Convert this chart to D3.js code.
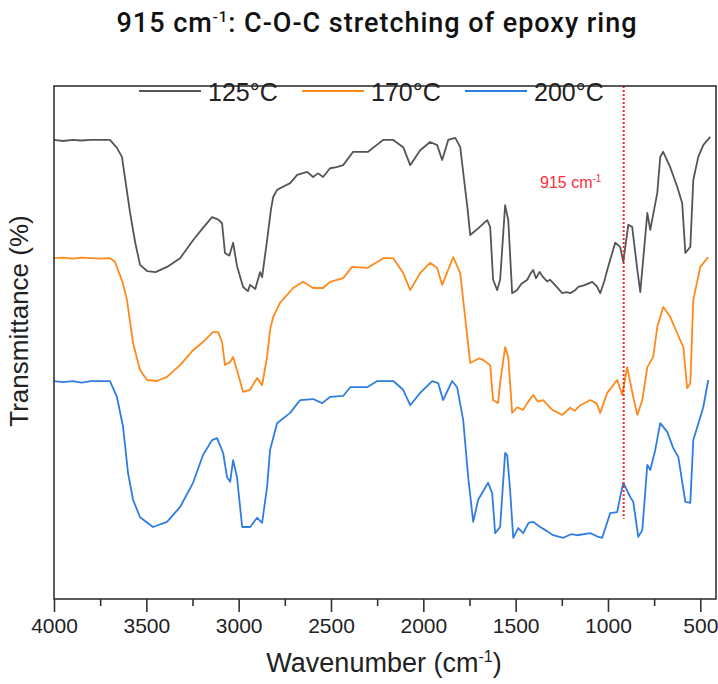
<!DOCTYPE html>
<html>
<head>
<meta charset="utf-8">
<script src="https://cdn.jsdelivr.net/npm/d3@7"></script>
<style>
  html, body { margin: 0; padding: 0; background: #fff; }
  svg { display: block; }
</style>
</head>
<body>
<svg id="chart" width="718" height="684"></svg>
<script>
// FTIR spectra of the cured resin at three temperatures (offset traces)
const seriesNames = ["125°C", "170°C", "200°C"];
const seriesColors = ["#555555", "#ff8a1c", "#2f7de1"];

// [wavenumber (cm-1), transmittance (offset, a.u.)]
const spectrum125 = [
  [4000, 89.5], [3950, 89.3], [3900, 89.5], [3850, 89.4], [3800, 89.5], [3750, 89.5],
  [3697, 89.5], [3660, 88.0], [3632, 86.2], [3588, 75.3], [3560, 69.5], [3534, 65.2],
  [3496, 64.0], [3450, 63.8], [3388, 64.8], [3317, 66.5], [3247, 70.0], [3193, 72.4],
  [3144, 74.5], [3110, 74.0], [3090, 73.3], [3074, 67.5], [3050, 67.0], [3030, 69.5],
  [3009, 65.0], [2976, 60.9], [2950, 60.1], [2938, 61.3], [2910, 60.5], [2884, 63.8],
  [2873, 62.8], [2846, 70.0], [2825, 76.0], [2813, 78.4], [2792, 79.8], [2760, 80.4],
  [2721, 81.1], [2683, 82.7], [2629, 83.3], [2597, 82.3], [2570, 83.0], [2543, 82.3],
  [2505, 84.0], [2470, 84.2], [2434, 84.6], [2380, 87.2], [2299, 87.2], [2250, 88.6],
  [2218, 89.5], [2163, 89.5], [2109, 88.1], [2071, 84.6], [2017, 87.5], [1963, 89.1],
  [1925, 88.5], [1898, 85.6], [1865, 89.5], [1827, 89.9], [1800, 88.1], [1780, 82.0],
  [1760, 76.0], [1746, 71.0], [1700, 72.4], [1654, 73.9], [1638, 72.6], [1622, 62.3],
  [1600, 60.3], [1584, 62.3], [1557, 76.8], [1540, 73.9], [1519, 59.7], [1492, 60.3],
  [1470, 61.5], [1437, 62.3], [1420, 63.5], [1405, 64.2], [1390, 62.6], [1370, 63.8],
  [1351, 62.8], [1330, 62.0], [1313, 62.3], [1280, 61.0], [1248, 59.7], [1225, 59.9],
  [1204, 59.7], [1180, 60.2], [1161, 60.9], [1130, 61.2], [1085, 61.9], [1060, 61.0],
  [1042, 59.7], [1020, 62.0], [1004, 64.2], [961, 69.5], [934, 68.7], [917, 65.8],
  [890, 73.0], [869, 72.6], [841, 64.2], [825, 59.9], [787, 75.3], [771, 72.0],
  [733, 79.2], [717, 86.2], [701, 87.2], [663, 84.2], [625, 80.4], [598, 77.2],
  [581, 67.5], [554, 68.7], [538, 81.7], [511, 86.2], [484, 88.5], [446, 90.1]
];

const spectrum170 = [
  [4000, 66.5], [3950, 66.6], [3900, 66.4], [3850, 66.6], [3800, 66.5], [3750, 66.4],
  [3697, 66.5], [3670, 65.8], [3630, 62.0], [3605, 58.4], [3572, 50.0], [3534, 44.7],
  [3496, 42.8], [3442, 42.6], [3388, 43.4], [3317, 45.7], [3247, 48.6], [3193, 50.2],
  [3139, 52.1], [3111, 52.1], [3090, 50.2], [3074, 45.7], [3046, 46.3], [3030, 47.3],
  [3009, 44.7], [2976, 40.5], [2938, 40.9], [2900, 43.2], [2873, 41.8], [2846, 47.3],
  [2830, 52.5], [2813, 55.1], [2776, 57.8], [2705, 60.7], [2651, 61.9], [2597, 60.7],
  [2543, 60.7], [2505, 61.9], [2434, 62.6], [2386, 64.8], [2304, 64.6], [2234, 66.1],
  [2218, 66.5], [2163, 66.5], [2109, 63.6], [2071, 60.3], [2017, 63.6], [1963, 65.6],
  [1925, 64.6], [1898, 61.3], [1838, 66.7], [1800, 63.6], [1784, 58.4], [1746, 46.1],
  [1700, 47.0], [1676, 46.7], [1638, 45.7], [1622, 38.9], [1595, 38.3], [1584, 42.2],
  [1557, 49.2], [1540, 47.3], [1519, 36.4], [1492, 37.5], [1460, 37.0], [1437, 38.3],
  [1405, 39.9], [1380, 38.6], [1351, 38.9], [1302, 37.0], [1270, 36.4], [1248, 36.0],
  [1204, 37.4], [1180, 36.8], [1150, 37.9], [1096, 38.9], [1060, 38.2], [1042, 36.4],
  [1004, 40.3], [950, 42.8], [923, 39.9], [896, 45.3], [863, 39.5], [841, 36.0],
  [814, 38.9], [787, 45.3], [755, 47.3], [733, 53.1], [701, 57.0], [663, 55.1],
  [625, 51.9], [592, 49.2], [571, 41.2], [554, 42.2], [538, 58.4], [500, 64.8],
  [457, 66.7]
];

const spectrum200 = [
  [4000, 42.6], [3950, 42.4], [3900, 42.6], [3850, 42.3], [3800, 42.6], [3750, 42.6],
  [3697, 42.6], [3659, 39.5], [3626, 33.7], [3599, 24.7], [3572, 19.5], [3534, 16.1],
  [3464, 14.2], [3388, 15.2], [3317, 18.1], [3247, 22.8], [3193, 28.2], [3144, 31.1],
  [3117, 31.5], [3084, 28.6], [3063, 23.9], [3046, 23.0], [3030, 27.2], [3009, 23.9],
  [2981, 14.2], [2938, 14.2], [2900, 16.0], [2873, 15.0], [2846, 22.0], [2830, 29.2],
  [2792, 34.4], [2721, 36.4], [2667, 38.9], [2597, 39.1], [2548, 38.3], [2505, 39.5],
  [2434, 39.7], [2396, 41.4], [2304, 41.4], [2250, 42.6], [2163, 42.6], [2109, 40.9],
  [2071, 37.9], [2017, 40.3], [1952, 42.6], [1920, 42.2], [1893, 38.9], [1844, 42.6],
  [1817, 41.4], [1784, 35.0], [1757, 23.9], [1730, 15.2], [1703, 19.5], [1649, 22.8],
  [1627, 20.8], [1611, 13.0], [1584, 14.2], [1557, 28.6], [1546, 28.2], [1530, 21.4],
  [1513, 12.1], [1486, 14.0], [1459, 13.0], [1430, 15.0], [1405, 15.2], [1367, 14.2],
  [1330, 13.4], [1297, 12.6], [1242, 12.1], [1200, 12.8], [1167, 12.6], [1096, 13.0],
  [1060, 12.4], [1031, 12.1], [988, 16.9], [950, 17.1], [934, 20.0], [917, 22.8],
  [879, 20.0], [863, 19.1], [836, 12.3], [814, 13.6], [787, 26.3], [771, 25.3],
  [744, 29.2], [717, 34.4], [679, 32.7], [647, 29.6], [619, 27.8], [581, 19.1],
  [554, 18.9], [538, 31.1], [484, 37.5], [457, 42.8]
];

const spectra = [spectrum125, spectrum170, spectrum200];

const xTicks = [4000, 3500, 3000, 2500, 2000, 1500, 1000, 500];
const xMinorTicks = [3750, 3250, 2750, 2250, 1750, 1250, 750];
const markerWavenumber = 915;
const markerTop = 100;     // transmittance where the marker line starts
const markerBottom = 15.8; // transmittance where it ends

const svg = d3.select("#chart");
const plot = { left: 54, right: 716, top: 86, bottom: 599 };

const x = d3.scaleLinear().domain([4000, 415]).range([plot.left, plot.right]);
const y = d3.scaleLinear().domain([0, 100]).range([600, plot.top]);

// title, spread to its full width
const titleWidth = 520;
const title = svg.append("text")
  .attr("x", 377).attr("y", 32)
  .attr("text-anchor", "middle")
  .style("font-family", "Roboto, 'Noto Sans', sans-serif")
  .style("font-weight", 500)
  .style("font-size", "27px")
  .style("fill", "#111");
title.append("tspan").text("915 cm");
title.append("tspan").attr("dy", -10).style("font-size", "15px").text("-1");
title.append("tspan").attr("dy", 10).text(": C-O-C stretching of epoxy ring");
{
  const w = title.node().getComputedTextLength();
  const chars = title.text().length;
  if (w < titleWidth && chars > 1) {
    title.style("letter-spacing", ((titleWidth - w) / (chars - 1)) + "px");
  }
}

// spectra
const line = d3.line().x(d => x(d[0])).y(d => y(d[1]));
svg.append("g").selectAll("path")
  .data(spectra)
  .join("path")
  .attr("d", line)
  .attr("fill", "none")
  .attr("stroke", (d, i) => seriesColors[i])
  .attr("stroke-width", 1.8)
  .attr("stroke-linejoin", "round");

// 915 cm-1 marker
svg.append("line")
  .attr("x1", x(markerWavenumber)).attr("x2", x(markerWavenumber))
  .attr("y1", y(markerTop)).attr("y2", y(markerBottom))
  .attr("stroke", "#ff2020")
  .attr("stroke-width", 2)
  .attr("stroke-dasharray", "2,2");

const markerLabel = svg.append("text")
  .attr("x", 540).attr("y", 188)
  .style("font-family", "'Liberation Sans', Arial, sans-serif")
  .style("font-size", "16px")
  .style("fill", "#ff2d3c");
markerLabel.append("tspan").text("915 cm");
markerLabel.append("tspan").attr("dy", -6).style("font-size", "10px").text("-1");

// frame
svg.append("rect")
  .attr("x", plot.left).attr("y", plot.top)
  .attr("width", plot.right - plot.left).attr("height", plot.bottom - plot.top)
  .attr("fill", "none")
  .attr("stroke", "#333")
  .attr("stroke-width", 1.6);

// x axis: major ticks with labels, minor ticks without
const xAxis = svg.append("g")
  .attr("transform", `translate(0,${plot.bottom})`)
  .call(d3.axisBottom(x).tickValues(xTicks).tickSize(13).tickPadding(6).tickFormat(d3.format("d")));
xAxis.select(".domain").remove();
xAxis.selectAll(".tick line").attr("stroke", "#333").attr("stroke-width", 1.6);
xAxis.selectAll(".tick text")
  .style("font-family", "'Liberation Sans', Arial, sans-serif")
  .style("font-size", "21px")
  .style("fill", "#222");

const xMinor = svg.append("g")
  .attr("transform", `translate(0,${plot.bottom})`)
  .call(d3.axisBottom(x).tickValues(xMinorTicks).tickSize(7).tickFormat(""));
xMinor.select(".domain").remove();
xMinor.selectAll(".tick line").attr("stroke", "#333").attr("stroke-width", 1.6);

// axis titles
const xTitle = svg.append("text")
  .attr("x", 384).attr("y", 672)
  .attr("text-anchor", "middle")
  .style("font-family", "'Liberation Sans', Arial, sans-serif")
  .style("font-size", "27px")
  .style("fill", "#222");
xTitle.append("tspan").text("Wavenumber (cm");
xTitle.append("tspan").attr("dy", -10).style("font-size", "16px").text("-1");
xTitle.append("tspan").attr("dy", 10).text(")");

svg.append("text")
  .attr("transform", "translate(28,321) rotate(-90)")
  .attr("text-anchor", "middle")
  .style("font-family", "'Liberation Sans', Arial, sans-serif")
  .style("font-size", "26px")
  .style("fill", "#222")
  .text("Transmittance (%)");

// legend
const legend = svg.append("g").selectAll("g")
  .data(seriesNames)
  .join("g")
  .attr("transform", (d, i) => `translate(${139 + i * 163},91)`);
legend.append("line")
  .attr("x1", 0).attr("x2", 62)
  .attr("stroke", (d, i) => seriesColors[i])
  .attr("stroke-width", 2);
legend.append("text")
  .attr("x", 69).attr("y", 10)
  .style("font-family", "'Liberation Sans', Arial, sans-serif")
  .style("font-size", "25px")
  .style("fill", "#222")
  .text(d => d);
</script>
</body>
</html>
